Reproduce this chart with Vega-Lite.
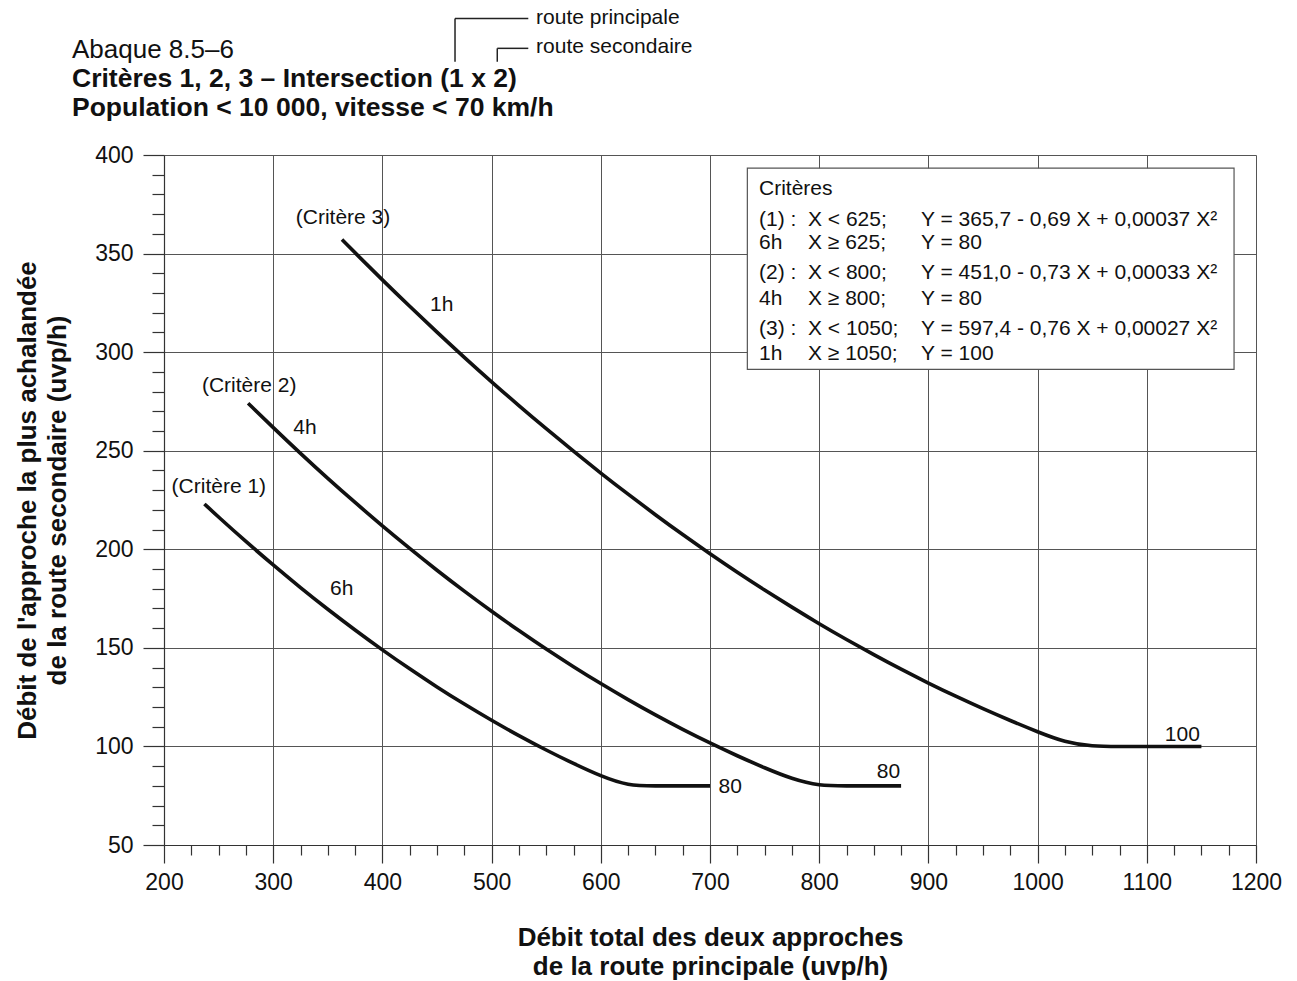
{
  "$schema": "https://vega.github.io/schema/vega-lite/v6.json",
  "width": 1092,
  "height": 690,
  "autosize": {"type": "none"},
  "padding": {"left": 164, "top": 155, "right": 41, "bottom": 136},
  "background": "white",
  "title": {
    "text": "Abaque 8.5–6",
    "subtitle": ["Critères 1, 2, 3 – Intersection (1 x 2)", "Population < 10 000, vitesse < 70 km/h"],
    "anchor": "start",
    "frame": "group",
    "dx": -92,
    "offset": -114,
    "font": "Liberation Sans",
    "fontSize": 26,
    "fontWeight": "normal",
    "color": "#111",
    "subtitleFont": "Liberation Sans",
    "subtitleFontSize": 26.5,
    "subtitleFontWeight": "bold",
    "subtitleColor": "#111",
    "subtitleLineHeight": 29,
    "subtitlePadding": 3
  },
  "config": {
    "view": {"stroke": null},
    "font": "Liberation Sans"
  },
  "encoding": {
    "x": {
      "field": "X",
      "type": "quantitative",
      "scale": {"domain": [200, 1200], "nice": false, "zero": false},
      "axis": {
        "values": [200, 225, 250, 275, 300, 325, 350, 375, 400, 425, 450, 475, 500, 525, 550, 575, 600, 625, 650, 675, 700, 725, 750, 775, 800, 825, 850, 875, 900, 925, 950, 975, 1000, 1025, 1050, 1075, 1100, 1125, 1150, 1175, 1200],
        "format": "d",
        "labelExpr": "datum.value % 100 === 0 ? datum.label : ''",
        "labelOverlap": false,
        "labelFlush": false,
        "labelFont": "Liberation Sans",
        "labelFontSize": 23,
        "labelColor": "#111",
        "labelPadding": 8,
        "tickSize": {"condition": {"test": "datum.value % 100 === 0", "value": 18}, "value": 10},
        "tickColor": "#333",
        "tickWidth": 1.2,
        "domainColor": "#333",
        "domainWidth": 1.2,
        "grid": true,
        "gridColor": "#555",
        "gridWidth": 1,
        "gridOpacity": {"condition": {"test": "datum.value % 100 === 0", "value": 1}, "value": 0},
        "title": ["Débit total des deux approches", "de la route principale (uvp/h)"],
        "titleFont": "Liberation Sans",
        "titleFontSize": 26,
        "titleFontWeight": "bold",
        "titleColor": "#111",
        "titleLineHeight": 29,
        "titlePadding": 30,
        "zindex": 0
      }
    },
    "y": {
      "field": "Y",
      "type": "quantitative",
      "scale": {"domain": [50, 400], "nice": false, "zero": false},
      "axis": {
        "values": [50, 60, 70, 80, 90, 100, 110, 120, 130, 140, 150, 160, 170, 180, 190, 200, 210, 220, 230, 240, 250, 260, 270, 280, 290, 300, 310, 320, 330, 340, 350, 360, 370, 380, 390, 400],
        "format": "d",
        "labelExpr": "datum.value % 50 === 0 ? datum.label : ''",
        "labelOverlap": false,
        "labelFlush": false,
        "labelFont": "Liberation Sans",
        "labelFontSize": 23,
        "labelColor": "#111",
        "labelPadding": 10,
        "tickSize": {"condition": {"test": "datum.value % 50 === 0", "value": 21}, "value": 12},
        "tickColor": "#333",
        "tickWidth": 1.2,
        "domainColor": "#333",
        "domainWidth": 1.2,
        "grid": true,
        "gridColor": "#555",
        "gridWidth": 1,
        "gridOpacity": {"condition": {"test": "datum.value % 50 === 0", "value": 1}, "value": 0},
        "title": ["Débit de l'approche la plus achalandée", "de la route secondaire (uvp/h)"],
        "titleFont": "Liberation Sans",
        "titleFontSize": 26,
        "titleFontWeight": "bold",
        "titleColor": "#111",
        "titleLineHeight": 30,
        "titlePadding": 24,
        "zindex": 0
      }
    }
  },
  "layer": [
    {
      "data": {"values": [{"X": 734.2, "X2": 1179.9, "Y": 393.3, "Y2": 291.3}]},
      "mark": {"type": "rect", "fill": "white", "stroke": "#555", "strokeWidth": 1.2},
      "encoding": {"x2": {"field": "X2"}, "y2": {"field": "Y2"}}
    },
    {
      "data": {"values": [
        {"X": 744.9, "Y": 382.75, "texte": "Critères"},
        {"X": 744.9, "Y": 367.03, "texte": "(1) :"},
        {"X": 789.7, "Y": 367.03, "texte": "X < 625;"},
        {"X": 893.2, "Y": 367.03, "texte": "Y = 365,7 - 0,69 X + 0,00037 X²"},
        {"X": 744.9, "Y": 355.11, "texte": "6h"},
        {"X": 789.7, "Y": 355.11, "texte": "X ≥ 625;"},
        {"X": 893.2, "Y": 355.11, "texte": "Y = 80"},
        {"X": 744.9, "Y": 340.14, "texte": "(2) :"},
        {"X": 789.7, "Y": 340.14, "texte": "X < 800;"},
        {"X": 893.2, "Y": 340.14, "texte": "Y = 451,0 - 0,73 X + 0,00033 X²"},
        {"X": 744.9, "Y": 327.21, "texte": "4h"},
        {"X": 789.7, "Y": 327.21, "texte": "X ≥ 800;"},
        {"X": 893.2, "Y": 327.21, "texte": "Y = 80"},
        {"X": 744.9, "Y": 311.74, "texte": "(3) :"},
        {"X": 789.7, "Y": 311.74, "texte": "X < 1050;"},
        {"X": 893.2, "Y": 311.74, "texte": "Y = 597,4 - 0,76 X + 0,00027 X²"},
        {"X": 744.9, "Y": 299.31, "texte": "1h"},
        {"X": 789.7, "Y": 299.31, "texte": "X ≥ 1050;"},
        {"X": 893.2, "Y": 299.31, "texte": "Y = 100"}
      ]},
      "mark": {"type": "text", "align": "left", "baseline": "middle", "font": "Liberation Sans", "fontSize": 21, "color": "#111"},
      "encoding": {"text": {"field": "texte", "type": "nominal"}}
    },
    {
      "data": {"values": [
        {"critere": "1", "X": 237, "Y": 223.0},
        {"critere": "1", "X": 250, "Y": 216.3},
        {"critere": "1", "X": 275, "Y": 203.9},
        {"critere": "1", "X": 300, "Y": 192.0},
        {"critere": "1", "X": 325, "Y": 180.5},
        {"critere": "1", "X": 350, "Y": 169.5},
        {"critere": "1", "X": 375, "Y": 159.0},
        {"critere": "1", "X": 400, "Y": 148.9},
        {"critere": "1", "X": 425, "Y": 139.3},
        {"critere": "1", "X": 450, "Y": 130.1},
        {"critere": "1", "X": 475, "Y": 121.4},
        {"critere": "1", "X": 500, "Y": 113.2},
        {"critere": "1", "X": 525, "Y": 105.4},
        {"critere": "1", "X": 550, "Y": 98.1},
        {"critere": "1", "X": 575, "Y": 91.3},
        {"critere": "1", "X": 600, "Y": 84.9},
        {"critere": "1", "X": 625, "Y": 80},
        {"critere": "1", "X": 650, "Y": 80},
        {"critere": "1", "X": 675, "Y": 80},
        {"critere": "1", "X": 700, "Y": 80},
        {"critere": "2", "X": 277, "Y": 274.1},
        {"critere": "2", "X": 300, "Y": 261.7},
        {"critere": "2", "X": 325, "Y": 248.6},
        {"critere": "2", "X": 350, "Y": 235.9},
        {"critere": "2", "X": 375, "Y": 223.7},
        {"critere": "2", "X": 400, "Y": 211.8},
        {"critere": "2", "X": 425, "Y": 200.4},
        {"critere": "2", "X": 450, "Y": 189.3},
        {"critere": "2", "X": 475, "Y": 178.7},
        {"critere": "2", "X": 500, "Y": 168.5},
        {"critere": "2", "X": 525, "Y": 158.7},
        {"critere": "2", "X": 550, "Y": 149.3},
        {"critere": "2", "X": 575, "Y": 140.4},
        {"critere": "2", "X": 600, "Y": 131.8},
        {"critere": "2", "X": 625, "Y": 123.7},
        {"critere": "2", "X": 650, "Y": 115.9},
        {"critere": "2", "X": 675, "Y": 108.6},
        {"critere": "2", "X": 700, "Y": 101.7},
        {"critere": "2", "X": 725, "Y": 95.2},
        {"critere": "2", "X": 750, "Y": 89.1},
        {"critere": "2", "X": 775, "Y": 83.5},
        {"critere": "2", "X": 800, "Y": 80},
        {"critere": "2", "X": 825, "Y": 80},
        {"critere": "2", "X": 850, "Y": 80},
        {"critere": "2", "X": 875, "Y": 80},
        {"critere": "3", "X": 363, "Y": 357.1},
        {"critere": "3", "X": 375, "Y": 350.4},
        {"critere": "3", "X": 400, "Y": 336.6},
        {"critere": "3", "X": 425, "Y": 323.2},
        {"critere": "3", "X": 450, "Y": 310.1},
        {"critere": "3", "X": 475, "Y": 297.3},
        {"critere": "3", "X": 500, "Y": 284.9},
        {"critere": "3", "X": 525, "Y": 272.8},
        {"critere": "3", "X": 550, "Y": 261.1},
        {"critere": "3", "X": 575, "Y": 249.7},
        {"critere": "3", "X": 600, "Y": 238.6},
        {"critere": "3", "X": 625, "Y": 227.9},
        {"critere": "3", "X": 650, "Y": 217.5},
        {"critere": "3", "X": 675, "Y": 207.4},
        {"critere": "3", "X": 700, "Y": 197.7},
        {"critere": "3", "X": 725, "Y": 188.3},
        {"critere": "3", "X": 750, "Y": 179.3},
        {"critere": "3", "X": 775, "Y": 170.6},
        {"critere": "3", "X": 800, "Y": 162.2},
        {"critere": "3", "X": 825, "Y": 154.2},
        {"critere": "3", "X": 850, "Y": 146.5},
        {"critere": "3", "X": 875, "Y": 139.1},
        {"critere": "3", "X": 900, "Y": 132.1},
        {"critere": "3", "X": 925, "Y": 125.4},
        {"critere": "3", "X": 950, "Y": 119.1},
        {"critere": "3", "X": 975, "Y": 113.1},
        {"critere": "3", "X": 1000, "Y": 107.4},
        {"critere": "3", "X": 1025, "Y": 102.1},
        {"critere": "3", "X": 1050, "Y": 100},
        {"critere": "3", "X": 1075, "Y": 100},
        {"critere": "3", "X": 1100, "Y": 100},
        {"critere": "3", "X": 1150, "Y": 100}
      ]},
      "mark": {"type": "line", "interpolate": "basis", "stroke": "#111", "strokeWidth": 3.6},
      "encoding": {"detail": {"field": "critere", "type": "nominal"}, "order": {"field": "X", "type": "quantitative"}}
    },
    {
      "data": {"values": [
        {"X": 363.9, "Y": 367.9, "texte": "(Critère 3)"},
        {"X": 278.0, "Y": 283.0, "texte": "(Critère 2)"},
        {"X": 250.2, "Y": 231.4, "texte": "(Critère 1)"},
        {"X": 454.3, "Y": 323.9, "texte": "1h"},
        {"X": 329.1, "Y": 261.7, "texte": "4h"},
        {"X": 362.7, "Y": 179.7, "texte": "6h"},
        {"X": 718.5, "Y": 79.6, "texte": "80"},
        {"X": 863.5, "Y": 86.9, "texte": "80"},
        {"X": 1132.5, "Y": 105.8, "texte": "100"}
      ]},
      "mark": {"type": "text", "align": "center", "baseline": "middle", "font": "Liberation Sans", "fontSize": 21, "color": "#111"},
      "encoding": {"text": {"field": "texte", "type": "nominal"}}
    },
    {
      "data": {"values": [
        {"X": 466.5, "Y": 447.3, "X2": 466.5, "Y2": 469.3},
        {"X": 466.5, "Y": 469.3, "X2": 533.6, "Y2": 469.3},
        {"X": 505.2, "Y": 447.3, "X2": 505.2, "Y2": 454.1},
        {"X": 505.2, "Y": 454.1, "X2": 533.6, "Y2": 454.1}
      ]},
      "mark": {"type": "rule", "stroke": "#222", "strokeWidth": 1.5},
      "encoding": {"x2": {"field": "X2"}, "y2": {"field": "Y2"}}
    },
    {
      "data": {"values": [
        {"X": 540.7, "Y": 469.3, "texte": "route principale"},
        {"X": 540.7, "Y": 454.9, "texte": "route secondaire"}
      ]},
      "mark": {"type": "text", "align": "left", "baseline": "middle", "font": "Liberation Sans", "fontSize": 21, "color": "#111"},
      "encoding": {"text": {"field": "texte", "type": "nominal"}}
    }
  ]
}
